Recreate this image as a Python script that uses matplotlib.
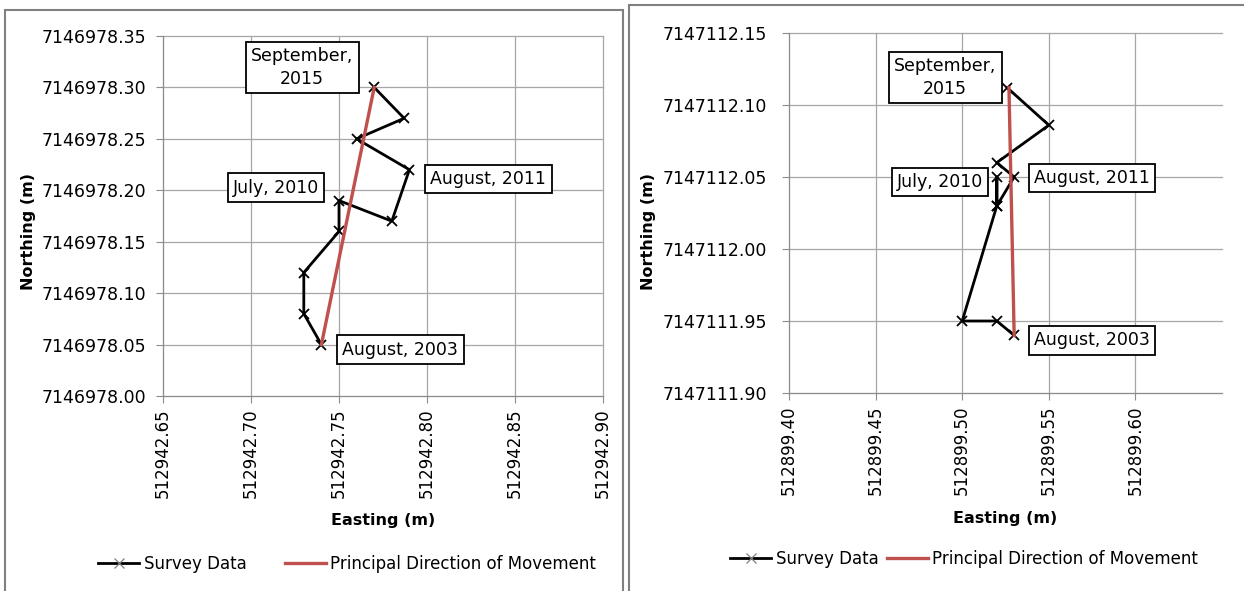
import matplotlib
matplotlib.use("Agg")
import matplotlib.pyplot as plt
from matplotlib.lines import Line2D
from matplotlib.patches import Rectangle
from matplotlib.ticker import FormatStrFormatter

W, H = 1244, 591

# site A (left panel) survey points, Aug 2003 -> Sep 2015
east_a = [512942.74, 512942.73, 512942.73, 512942.75, 512942.75,
          512942.78, 512942.79, 512942.76, 512942.787, 512942.77]
north_a = [7146978.05, 7146978.08, 7146978.12, 7146978.16, 7146978.19,
           7146978.17, 7146978.22, 7146978.25, 7146978.27, 7146978.30]
pdm_east_a = [512942.74, 512942.77]
pdm_north_a = [7146978.05, 7146978.30]
xticks_a = [512942.65, 512942.70, 512942.75, 512942.80, 512942.85, 512942.90]
yticks_a = [7146978.00, 7146978.05, 7146978.10, 7146978.15,
            7146978.20, 7146978.25, 7146978.30, 7146978.35]

# site B (right panel)
east_b = [512899.53, 512899.52, 512899.50, 512899.52, 512899.52,
          512899.52, 512899.53, 512899.52, 512899.55, 512899.526]
north_b = [7147111.94, 7147111.95, 7147111.95, 7147112.03, 7147112.05,
           7147112.03, 7147112.05, 7147112.06, 7147112.086, 7147112.112]
pdm_east_b = [512899.53, 512899.527]
pdm_north_b = [7147111.94, 7147112.112]
xticks_b = [512899.40, 512899.45, 512899.50, 512899.55, 512899.60]
xmax_b = 512899.65
yticks_b = [7147111.90, 7147111.95, 7147112.00, 7147112.05,
            7147112.10, 7147112.15]

date_labels = ["August, 2003", "July, 2010", "August, 2011", "September,\n2015"]
label_idx = [0, 4, 6, 9]

GRID = "#a6a6a6"
AXC = "#8c8c8c"
RED = "#c0504d"


def px_rect(x0, y0, x1, y1):
    return [x0 / W, 1 - y1 / H, (x1 - x0) / W, (y1 - y0) / H]


def panel(fig, box, east, north, pdm_e, pdm_n, xticks, xlim, yticks,
          offsets, ypad, ylab_x, xlab_y, leg_xy, colspace):
    ax = fig.add_axes(px_rect(*box))
    ax.plot(east, north, color="black", lw=2.0, marker="x", ms=7.5,
            mew=1.3, zorder=3)
    ax.plot(pdm_e, pdm_n, color=RED, lw=2.4, zorder=4)

    ax.set_xlim(*xlim)
    ax.set_ylim(yticks[0], yticks[-1])
    ax.set_xticks(xticks)
    ax.set_yticks(yticks)
    ax.xaxis.set_major_formatter(FormatStrFormatter("%.2f"))
    ax.yaxis.set_major_formatter(FormatStrFormatter("%.2f"))
    ax.tick_params(axis="x", direction="out", length=5, color=AXC,
                   labelsize=12, rotation=90, pad=4)
    ax.tick_params(axis="y", direction="out", length=5, color=AXC,
                   labelsize=12.5, pad=ypad)
    ax.grid(True, color=GRID, lw=0.9)
    ax.set_axisbelow(True)
    for gl in ax.get_xgridlines() + ax.get_ygridlines():
        gl.set_clip_on(False)
    for s in ["top", "right"]:
        ax.spines[s].set_visible(False)
    for s in ["left", "bottom"]:
        ax.spines[s].set_color(AXC)

    for i, txt, (dx, dy) in zip(label_idx, date_labels, offsets):
        ax.annotate(txt, xy=(east[i], north[i]), xytext=(dx * 0.72, -dy * 0.72),
                    textcoords="offset points", ha="center", va="center",
                    ma="center", fontsize=12.5, linespacing=1.35, zorder=5,
                    bbox=dict(boxstyle="square,pad=0.3", fc="white",
                              ec="black", lw=1.3))

    cx = (box[0] + box[2]) / 2
    fig.text(cx / W, 1 - xlab_y / H, "Easting (m)", ha="center",
             va="center", fontsize=11.5, fontweight="bold")
    fig.text(ylab_x / W, 1 - 232 / H, "Northing (m)", ha="center",
             va="center", rotation=90, fontsize=11.5, fontweight="bold")

    handles = [Line2D([], [], color="black", lw=2.0, marker="x", ms=7,
                      mew=0.9, mec="#7f7f7f"),
               Line2D([], [], color=RED, lw=2.4)]
    ax.legend(handles, ["Survey Data", "Principal Direction of Movement"],
              loc="center", bbox_to_anchor=(leg_xy[0] / W, 1 - leg_xy[1] / H),
              bbox_transform=fig.transFigure, ncol=2, frameon=False,
              fontsize=12, handlelength=2.5, handletextpad=0.25,
              columnspacing=colspace)
    return ax


fig = plt.figure(figsize=(W / 100, H / 100), dpi=100)

# chart frames
fig.add_artist(Rectangle((5 / W, -10 / H), 618 / W, 591 / H,
                         transform=fig.transFigure, fill=False,
                         ec="#808080", lw=1.5))
fig.add_artist(Rectangle((629 / W, -10 / H), 630 / W, 596 / H,
                         transform=fig.transFigure, fill=False,
                         ec="#808080", lw=1.5))

panel(fig, (163, 36, 603, 396), east_a, north_a, pdm_east_a, pdm_north_a,
      xticks_a, (xticks_a[0], xticks_a[-1]), yticks_a,
      [(79, 5), (-63, -13), (79, 9), (-72, -20)],
      ypad=7, ylab_x=28, xlab_y=520, leg_xy=(347, 564), colspace=2.3)

panel(fig, (789, 33, 1222, 393), east_b, north_b, pdm_east_b, pdm_north_b,
      xticks_b, (xticks_b[0], xmax_b), yticks_b,
      [(78, 5), (-57, 5), (78, 1), (-62, -10)],
      ypad=11, ylab_x=648, xlab_y=518, leg_xy=(964, 559), colspace=0.5)

fig.savefig("out.png", dpi=100)
